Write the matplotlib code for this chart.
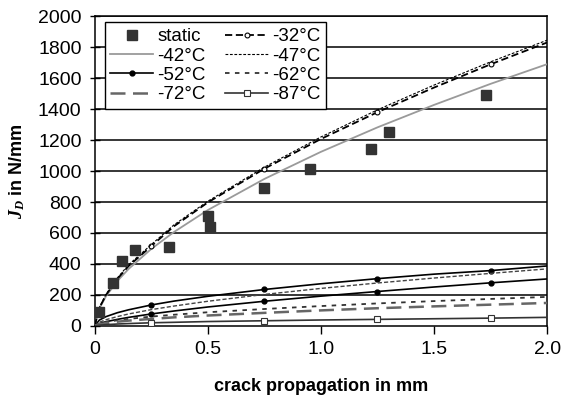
import matplotlib
matplotlib.use("Agg")
import matplotlib.pyplot as plt

plt.rcParams['font.family'] = ['Liberation Sans', 'DejaVu Sans']
plt.rcParams['mathtext.fontset'] = 'custom'
plt.rcParams['mathtext.it'] = 'Liberation Serif:bold:italic'
plt.rcParams['mathtext.rm'] = 'Liberation Serif:bold'

# static test points
static_x = [0.02, 0.08, 0.12, 0.18, 0.33, 0.50, 0.51, 0.75, 0.95, 1.22, 1.30, 1.73]
static_j = [90, 280, 420, 490, 510, 710, 640, 890, 1010, 1140, 1250, 1490]

# curves
crack = [0, 0.02, 0.05, 0.1, 0.15, 0.25, 0.35, 0.5, 0.75, 1.0, 1.25, 1.5, 1.75, 2.0]
j_m32 = [0, 115, 200, 303, 387, 515, 643, 797, 1015, 1207, 1380, 1539, 1689, 1830]
j_m47 = [0, 118, 205, 310, 395, 525, 652, 805, 1025, 1220, 1395, 1555, 1705, 1845]
j_m42 = [0, 112, 192, 290, 368, 497, 606, 748, 949, 1124, 1282, 1427, 1563, 1690]
j_m52a = [0, 37, 60, 85, 104, 135, 160, 191, 235, 272, 305, 334, 357, 387]
j_m52b = [0, 15, 27, 42, 55, 77, 96, 122, 159, 192, 222, 251, 278, 303]
j_mid = [0, 23, 40, 60, 77, 105, 128, 159, 203, 242, 277, 309, 339, 368]
j_m62 = [0, 15, 25, 36, 45, 60, 72, 88, 109, 128, 145, 160, 174, 187]
j_m72 = [0, 11, 18, 27, 34, 45, 55, 67, 84, 100, 114, 126, 137, 148]
j_m87 = [0, 4, 8, 12, 15, 20, 23, 28, 33, 38, 42, 46, 50, 55]

marks = [5, 8, 10, 12]

fig = plt.figure(figsize=(5.64, 3.95), dpi=100)
ax = fig.add_axes([0.168, 0.175, 0.802, 0.784])

for v in range(200, 2001, 200):
    ax.axhline(v, color='black', lw=1.1, zorder=1)

st, = ax.plot(static_x, static_j, 's', color='#333333', ms=6.5, ls='none', label='static', zorder=5)
l42, = ax.plot(crack, j_m42, color='#9a9a9a', lw=1.3, label='-42°C', zorder=3)
l32, = ax.plot(crack, j_m32, color='black', lw=1.3, dashes=(4, 2), marker='o', ms=3.5,
               mfc='white', mec='black', mew=0.8, markevery=marks, label='-32°C', zorder=3)
l47, = ax.plot(crack, j_m47, color='black', lw=0.8, dashes=(2.5, 1.5), label='-47°C', zorder=3)
l52, = ax.plot(crack, j_m52a, color='black', lw=1.2, marker='o', ms=3.5, markevery=marks,
               label='-52°C', zorder=3)
ax.plot(crack, j_m52b, color='black', lw=1.2, marker='o', ms=3.5, markevery=marks, zorder=3)
ax.plot(crack, j_mid, color='#444444', lw=1.0, dashes=(3, 1.5), zorder=3)
l62, = ax.plot(crack, j_m62, color='#333333', lw=1.3, dashes=(2.5, 3), label='-62°C', zorder=3)
l72, = ax.plot(crack, j_m72, color='#666666', lw=1.8, dashes=(6, 3), label='-72°C', zorder=3)
l87, = ax.plot(crack, j_m87, color='#333333', lw=1.2, marker='s', ms=4, mfc='white',
               mec='#333333', mew=0.8, markevery=marks, label='-87°C', zorder=3)

ax.set_xlim(0, 2.0)
ax.set_ylim(0, 2000)
ax.set_xticks([0, 0.5, 1.0, 1.5, 2.0])
ax.set_xticklabels(['0', '0.5', '1.0', '1.5', '2.0'])
ax.set_yticks(range(0, 2001, 200))
ax.tick_params(axis='y', direction='inout', length=7, width=1, labelsize=14, pad=6)
ax.tick_params(axis='x', direction='out', length=6, width=1, labelsize=14, pad=5)
for s in ax.spines.values():
    s.set_linewidth(1.1)

ax.set_xlabel('crack propagation in mm', fontsize=13, fontweight='bold', labelpad=14)
ax.set_ylabel(r'$J_D$ in N/mm', fontsize=13, fontweight='bold', labelpad=8)

leg = ax.legend(handles=[st, l42, l52, l72, l32, l47, l62, l87], ncol=2,
                loc='upper left', bbox_to_anchor=(0.022, 0.98), fontsize=13.5,
                frameon=True, fancybox=False, edgecolor='black', framealpha=1,
                handlelength=2.3, handletextpad=0.2, columnspacing=1.05,
                labelspacing=0.12, borderpad=0.3, borderaxespad=0)
leg.get_frame().set_linewidth(1.0)

fig.savefig('out.png', dpi=100)
